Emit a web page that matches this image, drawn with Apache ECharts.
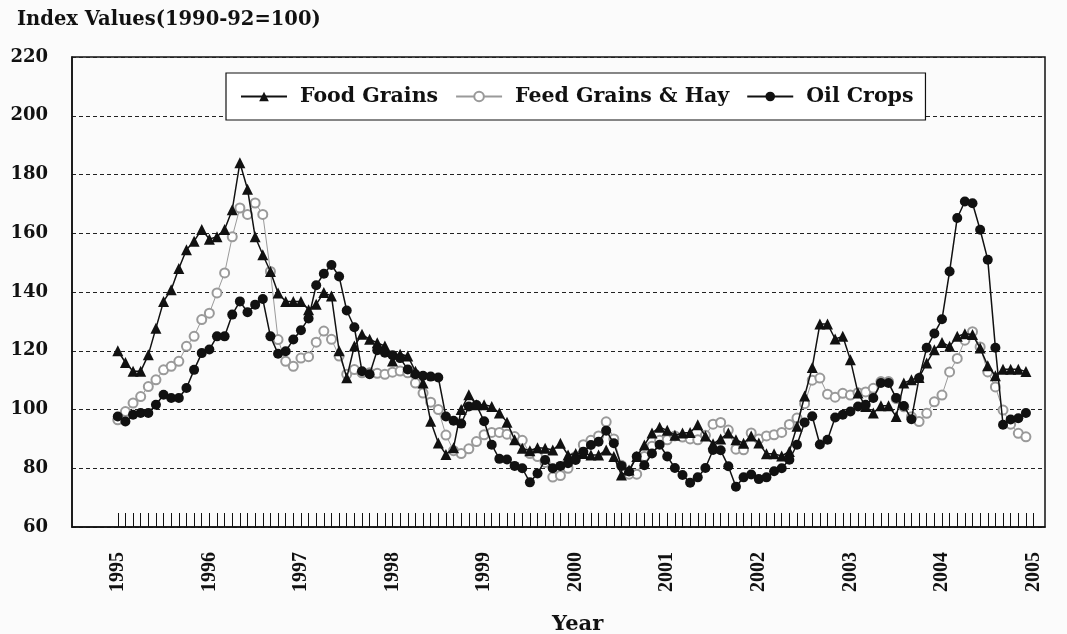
<!DOCTYPE html>
<html><head><meta charset="utf-8">
<script src="https://cdn.jsdelivr.net/npm/echarts@6/dist/echarts.min.js"></script>
<style>html,body{margin:0;padding:0;background:#fbfbfb}#c{width:1067px;height:634px}</style>
</head><body><div id="c"></div>
<script>
// Tick labels (one per January, 1995..2005)
const yearLabels = ['1995','1996','1997','1998','1999','2000','2001','2002','2003','2004','2005'];
const yTickMin = 60, yTickMax = 220, yTickStep = 20;

// Monthly index values, Jan 1995 .. Dec 2004 (1990-92 = 100)
const foodGrains = [
 120, 116, 113, 113, 118.6, 127.7, 136.8, 140.8, 148, 154.4, 157.3, 161.3,
 158, 158.8, 161.3, 168, 184, 175, 158.8, 152.7, 147, 139.7, 136.8, 136.8,
 136.8, 134, 135.8, 139.8, 138.6, 120, 110.8, 121.6, 125.6, 123.9, 122.7, 121.6,
 116.5, 118.8, 118.2, 113, 109, 96, 88.6, 84.7, 87, 100, 105, 101.6,
 101.6, 101, 98.8, 95.7, 89.7, 86.8, 86, 87, 86.8, 86.2, 88.5, 84.5,
 85, 85, 84.5, 84.5, 86.2, 84, 77.7, 79.4, 84, 87.9, 92, 94,
 92.9, 91.2, 92, 92.2, 94.8, 91, 88.3, 90, 92, 89.7, 88.5, 91,
 88.6, 84.9, 84.9, 84.2, 85.7, 94.3, 104.6, 114.3, 129.1, 129.1, 124, 124.9,
 116.9, 105.6, 101, 98.8, 101.3, 101.3, 97.6, 109, 110.1, 110.9, 115.8, 120.3,
 122.8, 121.5, 124.9, 125.8, 125.5, 120.9, 114.9, 111.5, 113.7, 113.7, 113.7, 112.9
];
const feedGrains = [
 96.5, 99.3, 102.2, 104.4, 107.8, 110.1, 113.5, 114.7, 116.4, 121.5, 124.9, 130.6,
 132.8, 139.7, 146.5, 158.8, 168.6, 166.4, 170.3, 166.4, 147, 123.8, 116.4, 114.7,
 117.5, 118, 122.9, 126.7, 123.9, 118.2, 112, 113.6, 112.5, 112.5, 112.3, 112,
 112.7, 113.1, 112.5, 109, 105.6, 102.5, 100, 91.3, 86, 85, 86.6, 89.1,
 91.4, 92.2, 92.2, 91.6, 90.8, 89.5, 85, 84, 82, 77, 77.5, 80,
 84, 88, 89.5, 91, 95.8, 90, 81, 78, 78, 84, 87.5, 89.5,
 89.7, 91, 90.6, 90, 89.7, 91.2, 95, 95.6, 93, 86.5, 86.3, 92,
 90, 91, 91.4, 92.2, 94.9, 97.1, 102, 110, 110.7, 105.2, 104.2, 105.5,
 104.9, 105.7, 106, 107.2, 109.5, 109.5, 103.7, 100.9, 97.5, 95.9, 98.7, 102.6,
 104.9, 112.8, 117.4, 123.6, 126.5, 121.3, 112.8, 107.7, 99.8, 95, 91.9, 90.7
];
const oilCrops = [
 97.6, 95.9, 98.2, 98.8, 98.8, 101.6, 105, 103.9, 103.9, 107.3, 113.5, 119.2,
 120.4, 124.9, 124.9, 132.3, 136.8, 133.1, 135.7, 137.6, 124.9, 119, 119.8, 123.8,
 127, 131, 142.3, 146.2, 149.2, 145.3, 133.7, 128, 113, 112, 120.2, 119.3,
 118.5, 117.5, 113.6, 112, 111.5, 111.2, 110.9, 97.6, 96.2, 95.2, 101, 101.5,
 96, 88, 83.2, 83, 80.8, 80, 75.2, 78.2, 82.8, 80, 80.8, 81.7,
 82.8, 85.6, 87.9, 89, 92.8, 88.5, 80.8, 78.9, 84, 81, 85, 88,
 84, 80.1, 77.7, 75.1, 76.9, 80.1, 86.2, 86.1, 80.7, 73.7, 76.9, 77.9,
 76.3, 76.9, 79, 80, 82.9, 88, 95.6, 97.7, 88.1, 89.7, 97.3, 98.2,
 99.3, 101, 101.6, 103.9, 109, 109, 103.9, 101.2, 96.7, 110.7, 121, 125.9,
 130.7, 147, 165.2, 170.8, 170.2, 161.2, 151, 121, 94.8, 96.6, 97, 98.8
];

const seriesNames = ['Food Grains', 'Feed Grains & Hay', 'Oil Crops'];
const FONT = "'DejaVu Serif', serif";
const pairs = arr => arr.map((v, i) => [i, v]);
const monthTicks = []; for (let i = 0; i <= 12 * (yearLabels.length - 1); i++) monthTicks.push(i);
const yearTicks = yearLabels.map((_, k) => k * 12);

const chart = echarts.init(document.getElementById('c'), null, {renderer: 'canvas'});
chart.setOption({
  backgroundColor: '#fbfbfb',
  animation: false,
  title: [
    {text: 'Index Values(1990-92=100)', left: 12, top: 5,
     textStyle: {fontFamily: FONT, fontWeight: 'bold', fontSize: 19.5, color: '#111'}},
    {text: 'Year', left: 547, top: 609,
     textStyle: {fontFamily: FONT, fontWeight: 'bold', fontSize: 21, color: '#111'}}
  ],
  grid: {left: 72, right: 22, top: 57, bottom: 107, show: true, borderColor: '#111', borderWidth: 1.5, backgroundColor: 'transparent'},
  legend: {
    data: seriesNames,
    left: 226, top: 73,
    padding: [13, 12, 13, 14],
    itemGap: 17, itemWidth: 46, itemHeight: 12,
    backgroundColor: '#fff', borderColor: '#111', borderWidth: 1.2,
    textStyle: {fontFamily: FONT, fontWeight: 'bold', fontSize: 20.5, color: '#111', padding: [0, 0, 0, 8]}
  },
  xAxis: {
    type: 'value', min: -6, max: 121.5,
    axisLine: {show: true, onZero: false, lineStyle: {color: '#111', width: 1.5}},
    splitLine: {show: false},
    axisTick: {show: true, inside: true, length: 14, customValues: monthTicks, lineStyle: {color: '#111', width: 1}},
    axisLabel: {
      customValues: yearTicks, rotate: 90, margin: 25,
      formatter: v => yearLabels[Math.round(v / 12)],
      fontFamily: "'Liberation Serif', serif", fontWeight: 'bold', fontSize: 20, color: '#111'
    }
  },
  yAxis: {
    type: 'value', min: yTickMin, max: yTickMax, interval: yTickStep,
    axisLine: {show: true, onZero: false, lineStyle: {color: '#111', width: 1.5}},
    axisTick: {show: false},
    splitLine: {show: true, lineStyle: {color: '#222', type: [4, 3], width: 1}},
    axisLabel: {margin: 24, fontFamily: FONT, fontWeight: 'bold', fontSize: 18, color: '#111'}
  },
  series: [
    {name: 'Feed Grains & Hay', type: 'line', data: pairs(feedGrains), z: 2,
     symbol: 'emptyCircle', symbolSize: 9,
     lineStyle: {color: '#9a9a9a', width: 1}, itemStyle: {color: '#9a9a9a', borderColor: '#9a9a9a', borderWidth: 1}},
    {name: 'Food Grains', type: 'line', data: pairs(foodGrains), z: 3,
     symbol: 'triangle', symbolSize: 11,
     lineStyle: {color: '#111', width: 1.5}, itemStyle: {color: '#111'}},
    {name: 'Oil Crops', type: 'line', data: pairs(oilCrops), z: 4,
     symbol: 'circle', symbolSize: 10,
     lineStyle: {color: '#111', width: 1.5}, itemStyle: {color: '#111'}}
  ]
});
</script></body></html>
